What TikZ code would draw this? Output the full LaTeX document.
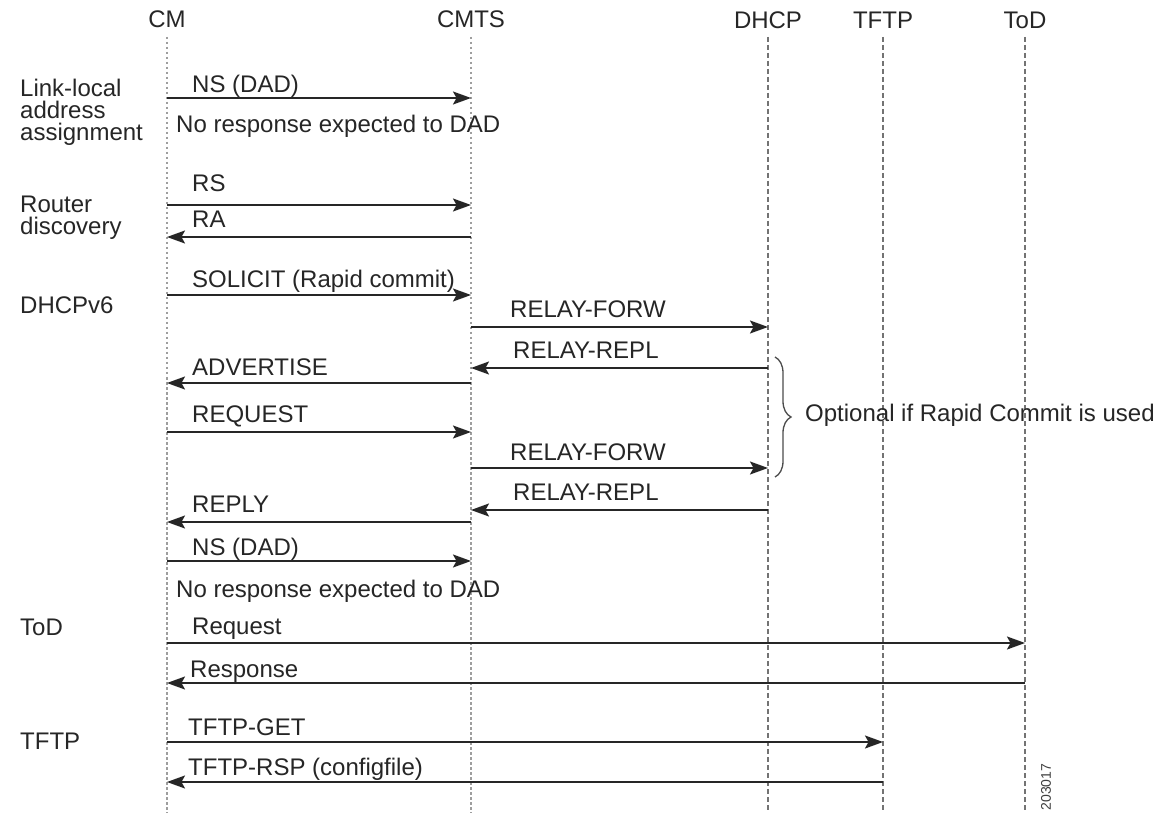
\documentclass[tikz,border=0pt]{standalone}
\usepackage{fontspec}
\setmainfont{Liberation Sans}
\usetikzlibrary{arrows.meta,decorations.pathreplacing}
\begin{document}
\begin{tikzpicture}[x=1pt,y=-1pt,
  txt/.style={inner sep=0pt, font=\fontsize{24}{22}\selectfont, text=black!85},
  head/.style={txt, anchor=base},
  lbl/.style={txt, anchor=base west},
  grp/.style={txt, anchor=base west, align=left},
  lifeA/.style={draw=black!38, line width=1.8pt, dash pattern=on 2.5pt off 2.5pt},
  lifeB/.style={draw=black!55, line width=1.2pt, dash pattern=on 5pt off 3pt},
  tipA/.tip={Stealth[length=18pt,width=13pt,inset=3.5pt]},
  msg/.style={draw=black!85, line width=1.7pt, -tipA},
  brc/.style={draw=black!70, line width=1.3pt, decorate, decoration={brace, amplitude=16pt}},
]
\fill[white] (0,0) rectangle (1171,813);
\useasboundingbox (0,0) rectangle (1171,813);

% participants
\node[head] (CM)   at (167,28) {CM};
\node[head] (CMTS) at (471,28) {CMTS};
\node[head] (DHCP) at (768,29) {DHCP};
\node[head] (TFTP) at (883,29) {TFTP};
\node[head] (ToD)  at (1025,29) {ToD};
\coordinate (bottom) at (0,813);

% lifelines
\draw[lifeA] ([yshift=-9pt]CM.base) -- (CM.base |- bottom);
\draw[lifeA] ([yshift=-9pt]CMTS.base) -- (CMTS.base |- bottom);
\draw[lifeB] ([yshift=-8pt]DHCP.base) -- (DHCP.base |- bottom);
\draw[lifeB] ([yshift=-8pt]TFTP.base) -- (TFTP.base |- bottom);
\draw[lifeB] ([yshift=-8pt]ToD.base) -- (ToD.base |- bottom);

% phase labels
\node[grp] (gLL) at (20,141) {Link-local\\address\\assignment};
\node[grp] (gRD) at (20,235) {Router\\discovery};
\node[grp] (gDH) at (20,313) {DHCPv6};
\node[grp] (gTo) at (20,635) {ToD};
\node[grp] (gTF) at (20,749) {TFTP};

% link-local
\draw[msg] (CM |- 0,98) -- (CMTS |- 0,98);
\node[lbl] (m1) at (192,93) {NS (DAD)};
\node[lbl] (n1) at (176,133) {No response expected to DAD};

% router discovery
\draw[msg] (CM |- 0,205) -- (CMTS |- 0,205);
\node[lbl] (m2) at (192,192) {RS};
\draw[msg] (CMTS |- 0,237) -- (CM |- 0,237);
\node[lbl] (m3) at (192,228) {RA};

% DHCPv6
\draw[msg] (CM |- 0,295) -- (CMTS |- 0,295);
\node[lbl] (m4) at (192,288) {SOLICIT (Rapid commit)};
\draw[msg] (CMTS |- 0,327) -- (DHCP |- 0,327);
\node[lbl] (m5) at (510,318) {RELAY-FORW};
\draw[msg] (DHCP |- 0,368) -- (CMTS |- 0,368);
\node[lbl] (m6) at (513,358) {RELAY-REPL};
\draw[msg] (CMTS |- 0,383) -- (CM |- 0,383);
\node[lbl] (m7) at (192,375) {ADVERTISE};
\draw[msg] (CM |- 0,432) -- (CMTS |- 0,432);
\node[lbl] (m8) at (192,422) {REQUEST};
\draw[msg] (CMTS |- 0,468) -- (DHCP |- 0,468);
\node[lbl] (m9) at (510,460) {RELAY-FORW};
\draw[msg] (DHCP |- 0,510) -- (CMTS |- 0,510);
\node[lbl] (m10) at (513,500) {RELAY-REPL};
\draw[msg] (CMTS |- 0,522) -- (CM |- 0,522);
\node[lbl] (m11) at (192,512) {REPLY};
\draw[msg] (CM |- 0,561) -- (CMTS |- 0,561);
\node[lbl] (m12) at (192,555) {NS (DAD)};
\node[lbl] (n2) at (176,597) {No response expected to DAD};

% brace
\coordinate (bt) at (775,357);
\coordinate (bb) at (775,477);
\draw[brc] (bt) -- (bb);
\node[lbl] (opt) at (805,421) {Optional if Rapid Commit is used};

% ToD
\draw[msg] (CM |- 0,643) -- (ToD |- 0,643);
\node[lbl] (m13) at (192,634) {Request};
\draw[msg] (ToD |- 0,683) -- (CM |- 0,683);
\node[lbl] (m14) at (190,677) {Response};

% TFTP
\draw[msg] (CM |- 0,742) -- (TFTP |- 0,742);
\node[lbl] (m15) at (188,735) {TFTP-GET};
\draw[msg] (TFTP |- 0,782) -- (CM |- 0,782);
\node[lbl] (m16) at (188,775) {TFTP-RSP (configfile)};

% figure number
\node[inner sep=0pt, rotate=90, font=\fontsize{14}{14}\selectfont, text=black!75] (fig) at (1046,787) {203017};
\end{tikzpicture}
\end{document}
